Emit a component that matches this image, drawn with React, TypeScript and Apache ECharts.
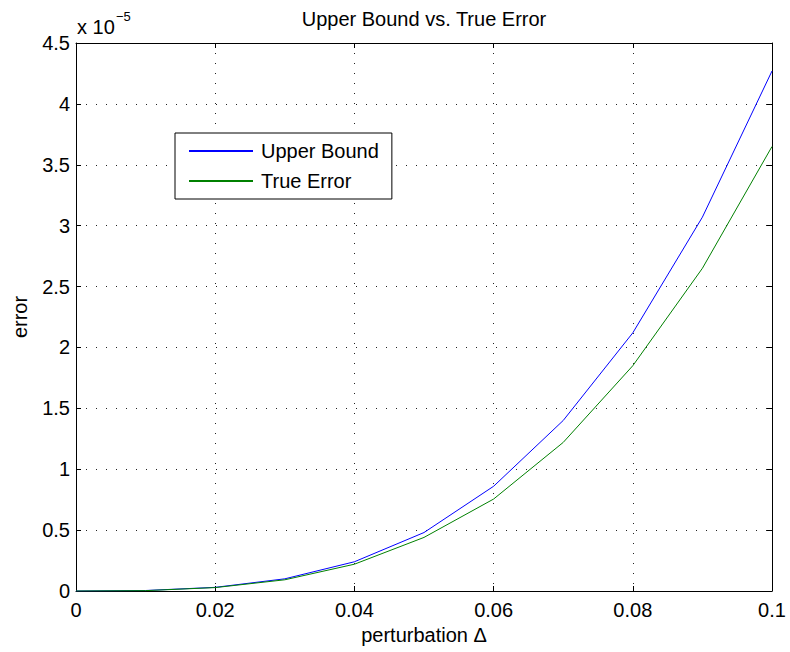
import React, { useEffect, useRef } from "react";
import * as echarts from "echarts";

const perturbation = [0, 0.01, 0.02, 0.03, 0.04, 0.05, 0.06, 0.07, 0.08, 0.09, 0.1];
// values in units of 1e-5
const upperBound = [0, 0.004, 0.03, 0.1, 0.24, 0.48, 0.86, 1.4, 2.12, 3.07, 4.27];
const trueError = [0, 0.003, 0.028, 0.092, 0.22, 0.44, 0.755, 1.22, 1.85, 2.65, 3.65];
const seriesNames = ["Upper Bound", "True Error"];
const titleText = "Upper Bound vs. True Error";
const xName = "perturbation \u0394";
const yName = "error";
const exponentBase = "x 10";
const exponentPower = "\u22125";

const FONT = "'Liberation Sans', Arial, Helvetica, sans-serif";

export default function App() {
  const ref = useRef<HTMLDivElement>(null);
  useEffect(() => {
    if (!ref.current) return;
    const chart = echarts.init(ref.current, undefined, { renderer: "svg" });
    const gridLine = { show: true, lineStyle: { color: "#222", width: 1, type: [1, 9] as any } };
    const axisLine = { show: true, onZero: false, lineStyle: { color: "#000", width: 1 } };
    const tick = { show: true, inside: true, length: 5, lineStyle: { color: "#000", width: 1 } };
    const label = { color: "#000", fontSize: 20, fontFamily: FONT };
    chart.setOption({
      animation: false,
      textStyle: { fontFamily: FONT },
      grid: { left: 76, right: 18, top: 43, bottom: 61 },
      graphic: [
        {
          type: "text",
          x: 424,
          y: 19,
          style: { text: titleText, fontSize: 20, fontFamily: FONT, fill: "#000", align: "center", verticalAlign: "middle" },
        },
        {
          type: "text",
          x: 77,
          y: 27,
          style: { text: exponentBase, fontSize: 20, fontFamily: FONT, fill: "#000", align: "left", verticalAlign: "middle" },
        },
        {
          type: "text",
          x: 116,
          y: 16,
          style: { text: exponentPower, fontSize: 13, fontFamily: FONT, fill: "#000", align: "left", verticalAlign: "middle" },
        },
      ],
      legend: {
        orient: "vertical",
        left: 175,
        top: 133,
        data: seriesNames,
        borderColor: "#000",
        borderWidth: 1,
        borderRadius: 0,
        backgroundColor: "#fff",
        padding: [8, 13, 8, 13],
        itemWidth: 64,
        itemHeight: 20,
        itemGap: 10,
        itemStyle: { opacity: 0 },
        textStyle: { ...label, padding: [0, 0, 0, 3], lineHeight: 20 },
      },
      xAxis: [
        {
          type: "value",
          position: "bottom",
          min: 0,
          max: 0.1,
          interval: 0.02,
          axisLine,
          axisTick: tick,
          splitLine: gridLine,
          axisLabel: { ...label, margin: 9, formatter: (v: number) => String(+v.toFixed(2)) },
          name: xName,
          nameLocation: "middle",
          nameGap: 27,
          nameTextStyle: { ...label },
        },
        {
          type: "value",
          position: "top",
          min: 0,
          max: 0.1,
          interval: 0.02,
          axisLine,
          axisTick: tick,
          splitLine: { show: false },
          axisLabel: { show: false },
        },
      ],
      yAxis: [
        {
          type: "value",
          position: "left",
          min: 0,
          max: 4.5,
          interval: 0.5,
          axisLine,
          axisTick: tick,
          splitLine: gridLine,
          axisLabel: { ...label, margin: 6 },
          name: yName,
          nameLocation: "middle",
          nameGap: 46,
          nameRotate: 90,
          nameTextStyle: { ...label },
        },
        {
          type: "value",
          position: "right",
          min: 0,
          max: 4.5,
          interval: 0.5,
          axisLine,
          axisTick: tick,
          splitLine: { show: false },
          axisLabel: { show: false },
        },
      ],
      series: [
        {
          name: seriesNames[0],
          type: "line",
          symbol: "none",
          color: "#0000ff",
          lineStyle: { color: "#0000ff", width: 1 },
          data: perturbation.map((x, i) => [x, upperBound[i]]),
        },
        {
          name: seriesNames[1],
          type: "line",
          symbol: "none",
          color: "#008000",
          lineStyle: { color: "#008000", width: 1 },
          data: perturbation.map((x, i) => [x, trueError[i]]),
        },
      ],
    });
    return () => chart.dispose();
  }, []);
  return (
    <div
      ref={ref}
      style={{ position: "fixed", left: 0, top: 0, width: 790, height: 652, background: "#fff" }}
    />
  );
}
